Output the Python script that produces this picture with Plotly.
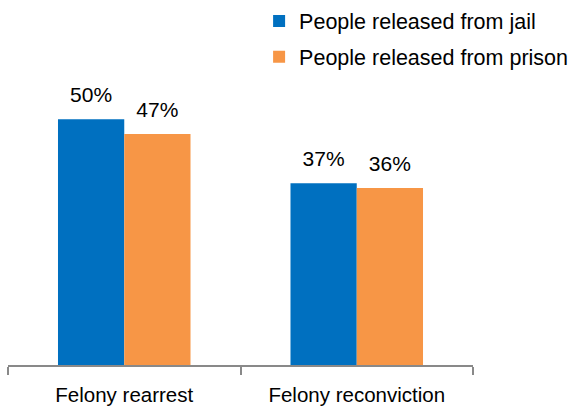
import plotly.graph_objects as go

categories = ["Felony rearrest", "Felony reconviction"]
jail = [50, 37]
prison = [47, 36]
series_names = ["People released from jail", "People released from prison"]
colors = ["#0070C0", "#F79646"]

FONT = "Liberation Sans, Arial"

fig = go.Figure()
for name, vals, col, lg in zip(series_names, [jail, prison], colors, ["legend", "legend2"]):
    fig.add_trace(go.Bar(
        x=categories, y=vals, name=name, marker_color=col, marker_line_width=0,
        offsetgroup=name, legend=lg,
    ))
for name, vals in zip(series_names, [jail, prison]):
    fig.add_trace(go.Scatter(
        x=categories, y=vals, mode="markers+text", offsetgroup=name,
        text=[f"{v}%" for v in vals], textposition="top center",
        marker=dict(size=18, opacity=0), showlegend=False, hoverinfo="skip",
        textfont=dict(size=21, color="#000000", family=FONT),
    ))

fig.update_layout(
    width=573, height=414,
    margin=dict(l=8, r=100, t=21, b=49, autoexpand=False),
    paper_bgcolor="white", plot_bgcolor="white",
    barmode="group", scattermode="group", bargap=0.43, bargroupgap=0,
    font=dict(family=FONT, size=20, color="#000000"),
    legend=dict(x=0.54, y=1.0, xanchor="left", yanchor="middle",
                font=dict(size=21.5), bgcolor="rgba(0,0,0,0)"),
    legend2=dict(x=0.54, y=0.896, xanchor="left", yanchor="middle",
                 font=dict(size=21.5), bgcolor="rgba(0,0,0,0)"),
    showlegend=True,
)
fig.update_xaxes(
    type="category", range=[-0.5, 1.5], showline=True, linecolor="#898989", linewidth=1.5,
    ticks="outside", tickson="boundaries", ticklen=8, tickcolor="#898989", tickwidth=1.5,
    ticklabelstandoff=11,
    showgrid=False, tickfont=dict(size=20.5, color="#000000"),
)
fig.update_yaxes(visible=False, range=[0, 70], showgrid=False, zeroline=False)

fig.write_html("out.html")
